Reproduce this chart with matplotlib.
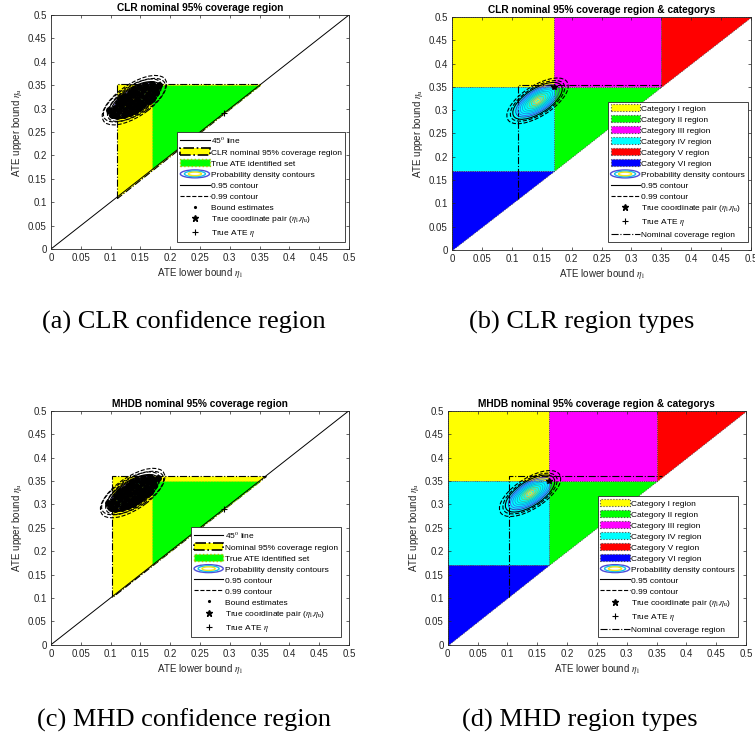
import matplotlib
matplotlib.use('Agg')
import matplotlib.pyplot as plt
from matplotlib.patches import Ellipse, Polygon, Patch
from matplotlib.lines import Line2D
from matplotlib.legend_handler import HandlerBase

plt.rcParams['font.family'] = ['Liberation Sans', 'DejaVu Sans']
plt.rcParams['mathtext.fontset'] = 'stix'

# axis ticks
ticks = [0, 0.05, 0.1, 0.15, 0.2, 0.25, 0.3, 0.35, 0.4, 0.45, 0.5]
tick_labels = ['0', '0.05', '0.1', '0.15', '0.2', '0.25', '0.3', '0.35', '0.4', '0.45', '0.5']
diag = [0, 0.5]

# true values
eta_l_true = 0.17
eta_u_true = 0.35
ate_true = 0.29

# nominal 95% coverage regions (lower corner, upper bound)
clr_lower, clr_upper = 0.11, 0.353
mhd_lower, mhd_upper = 0.103, 0.36

# true ATE identified set
id_l = [0.17, 0.17, 0.35]
id_u = [0.17, 0.35, 0.35]

# region categories
cat_names = ['Category I region', 'Category II region', 'Category III region',
             'Category IV region', 'Category V region', 'Category VI region']
cat_colors = ['#ffff00', '#00ff00', '#ff00ff', '#00ffff', '#ff0000', '#0000ff']
cat_l = [[0, 0, 0.17, 0.17], [0.17, 0.17, 0.35], [0.17, 0.17, 0.35, 0.35],
         [0, 0, 0.17, 0.17], [0.35, 0.35, 0.5], [0, 0, 0.17]]
cat_u = [[0.35, 0.5, 0.5, 0.35], [0.17, 0.35, 0.35], [0.35, 0.5, 0.5, 0.35],
         [0.17, 0.35, 0.35, 0.17], [0.35, 0.5, 0.5], [0, 0.17, 0.17]]

# density ellipse shape (semi axes at the 0.95 level, tilt in data units)
ell_a, ell_b, ell_angle = 0.052, 0.024, 43
center_a = (0.140, 0.318)
center_b = (0.143, 0.320)
center_c = (0.137, 0.324)
center_d = (0.138, 0.323)

# probability density contour levels (outer -> inner)
dens_scales = [0.88, 0.79, 0.70, 0.61, 0.52, 0.43, 0.34, 0.25, 0.16, 0.08]
dens_colors = [(0.24, 0.15, 0.66), (0.25, 0.35, 0.96), (0.13, 0.50, 0.93),
               (0.08, 0.62, 0.88), (0.02, 0.70, 0.80), (0.18, 0.75, 0.66),
               (0.40, 0.80, 0.42), (0.70, 0.75, 0.23), (0.96, 0.73, 0.23),
               (0.98, 0.90, 0.14)]

# 0.95 / 0.99 contour lines
conf_scales = [0.95, 1.03, 1.12, 1.22, 1.32]
conf_angles = [43, 41, 45, 40, 44]
conf_styles = ['-', '-', '--', '--', '--']
type_scales = [1.0, 1.1, 1.24]
type_angles = [43, 43, 43]
type_styles = ['-', '--', '--']

# bound estimates
est_l_a = [0.111, 0.104, 0.122, 0.114, 0.107, 0.132, 0.125, 0.118, 0.112,
           0.141, 0.135, 0.129, 0.123, 0.117, 0.148, 0.142, 0.136, 0.131, 0.125,
           0.155, 0.150, 0.144, 0.138, 0.132, 0.163, 0.157, 0.151, 0.145, 0.139,
           0.169, 0.162, 0.155, 0.148, 0.173, 0.166, 0.158, 0.176, 0.170,
           0.098, 0.103, 0.182, 0.176, 0.126, 0.160, 0.118, 0.150, 0.135, 0.170]
est_u_a = [0.284, 0.291, 0.286, 0.294, 0.302, 0.290, 0.297, 0.305, 0.312,
           0.295, 0.302, 0.308, 0.314, 0.320, 0.302, 0.308, 0.315, 0.321, 0.327,
           0.309, 0.315, 0.321, 0.328, 0.334, 0.316, 0.322, 0.328, 0.334, 0.341,
           0.324, 0.331, 0.339, 0.346, 0.334, 0.342, 0.350, 0.345, 0.352,
           0.296, 0.287, 0.351, 0.336, 0.292, 0.347, 0.322, 0.305, 0.335, 0.320]
est_l_c = [0.108, 0.101, 0.119, 0.111, 0.104, 0.129, 0.122, 0.115, 0.109,
           0.138, 0.132, 0.126, 0.120, 0.114, 0.145, 0.139, 0.133, 0.128, 0.122,
           0.152, 0.147, 0.141, 0.135, 0.129, 0.160, 0.154, 0.148, 0.142, 0.136,
           0.166, 0.159, 0.152, 0.145, 0.170, 0.163, 0.155, 0.173, 0.167,
           0.095, 0.100, 0.179, 0.173, 0.123, 0.157, 0.115, 0.147, 0.132, 0.167]
est_u_c = [0.290, 0.297, 0.292, 0.300, 0.308, 0.296, 0.303, 0.311, 0.318,
           0.301, 0.308, 0.314, 0.320, 0.326, 0.308, 0.314, 0.321, 0.327, 0.333,
           0.315, 0.321, 0.327, 0.334, 0.340, 0.322, 0.328, 0.334, 0.340, 0.347,
           0.330, 0.337, 0.345, 0.352, 0.340, 0.348, 0.356, 0.351, 0.358,
           0.302, 0.293, 0.357, 0.342, 0.298, 0.353, 0.328, 0.311, 0.341, 0.326]


class DensityIcon:
    pass


class DensityHandler(HandlerBase):
    def create_artists(self, legend, orig_handle, xdescent, ydescent,
                       width, height, fontsize, trans):
        cx = width / 2 - xdescent
        cy = height / 2 - ydescent
        arts = []
        for s, c in zip([1.0, 0.72, 0.45], [(0.3, 0.3, 0.85), (0.1, 0.75, 0.9), (0.95, 0.9, 0.1)]):
            arts.append(Ellipse((cx, cy), width * s, height * 1.15 * s, fill=False,
                                edgecolor=c, lw=1.0, transform=trans))
        return arts


def setup_axes(ax, title):
    ax.set_xlim(0, 0.5)
    ax.set_ylim(0, 0.5)
    ax.set_xticks(ticks)
    ax.set_yticks(ticks)
    ax.set_xticklabels(tick_labels)
    ax.set_yticklabels(tick_labels)
    ax.tick_params(direction='in', length=2.2, width=0.5, labelsize=7,
                   top=True, right=True, colors='0.15', pad=3)
    for sp in ax.spines.values():
        sp.set_linewidth(0.6)
        sp.set_color('0.15')
    ax.set_xlabel(r'ATE lower bound $\eta_{\rm l}$', fontsize=7, color='0.15', labelpad=2)
    ax.set_ylabel(r'ATE upper bound $\eta_{\rm u}$', fontsize=7, color='0.15', labelpad=3)
    ax.set_title(title, fontsize=7.3, fontweight='bold', pad=3)


def draw_density(ax, center):
    for s, c in zip(dens_scales, dens_colors):
        ax.add_patch(Ellipse(center, 2 * ell_a * s, 2 * ell_b * s, angle=ell_angle,
                             fill=False, edgecolor=c, lw=0.6, zorder=3))


def draw_levels(ax, center, scales, angles, styles):
    for s, a, st in zip(scales, angles, styles):
        ax.add_patch(Ellipse(center, 2 * ell_a * s, 2 * ell_b * s, angle=a,
                             fill=False, edgecolor='k', lw=0.8, linestyle=st, zorder=5))


def conf_panel(ax, title, region_label, lower, upper, center, est_l, est_u):
    setup_axes(ax, title)
    ax.plot(diag, diag, color='k', lw=0.7, zorder=2)
    ax.add_patch(Polygon(list(zip([lower, lower, upper], [lower, upper, upper])),
                         closed=True, facecolor='#ffff00', edgecolor='k',
                         linestyle='-.', lw=0.8, zorder=1))
    ax.add_patch(Polygon(list(zip(id_l, id_u)), closed=True, facecolor='#00ff00',
                         edgecolor='#d0d000', linestyle=':', lw=0.8, zorder=1.5))
    draw_density(ax, center)
    ax.plot(est_l, est_u, 'o', color='k', ms=5, mec='none', zorder=4)
    draw_levels(ax, center, conf_scales, conf_angles, conf_styles)
    ax.plot([eta_l_true], [eta_u_true], '*', color='k', ms=4, zorder=6)
    ax.plot([ate_true], [ate_true], '+', color='k', ms=5, mew=0.8, zorder=6)

    handles = [Line2D([], [], color='k', lw=0.8),
               Patch(facecolor='#ffff00', edgecolor='k', linestyle='-.', lw=1.2),
               Patch(facecolor='#00ff00', edgecolor='#b0c000', linestyle=':', lw=1.0),
               DensityIcon(),
               Line2D([], [], color='k', lw=0.8),
               Line2D([], [], color='k', lw=0.8, ls='--'),
               Line2D([], [], color='k', marker='.', ms=2.5, ls='none'),
               Line2D([], [], color='k', marker='*', ms=5, ls='none'),
               Line2D([], [], color='k', marker='+', ms=5, mew=0.8, ls='none')]
    labels = [r'45$^{\rm o}$ line', region_label, 'True ATE identified set',
              'Probability density contours', '0.95 contour', '0.99 contour',
              'Bound estimates', r'True coordinate pair ($\eta_{\rm l}$,$\eta_{\rm u}$)',
              r'True ATE $\eta$']
    return handles, labels


def type_panel(ax, title, lower, upper, center):
    setup_axes(ax, title)
    for l, u, c in zip(cat_l, cat_u, cat_colors):
        ax.add_patch(Polygon(list(zip(l, u)), closed=True, facecolor=c,
                             edgecolor='0.25', linestyle=':', lw=0.6, zorder=1))
    ax.plot([lower, lower, upper], [lower, upper, upper], color='k', ls='-.',
            lw=0.8, zorder=2)
    draw_density(ax, center)
    draw_levels(ax, center, type_scales, type_angles, type_styles)
    ax.plot([eta_l_true], [eta_u_true], '*', color='k', ms=4, zorder=6)
    ax.plot([ate_true], [ate_true], '+', color='k', ms=5, mew=0.8, zorder=6)

    handles = [Patch(facecolor=c, edgecolor='0.3', linestyle=':', lw=0.8) for c in cat_colors]
    handles += [DensityIcon(),
                Line2D([], [], color='k', lw=0.8),
                Line2D([], [], color='k', lw=0.8, ls='--'),
                Line2D([], [], color='k', marker='*', ms=5, ls='none'),
                Line2D([], [], color='k', marker='+', ms=5, mew=0.8, ls='none'),
                Line2D([], [], color='k', lw=0.8, ls='-.')]
    labels = cat_names + ['Probability density contours', '0.95 contour', '0.99 contour',
                          r'True coordinate pair ($\eta_{\rm l}$,$\eta_{\rm u}$)',
                          r'True ATE $\eta$', 'Nominal coverage region']
    return handles, labels


def add_legend(ax, handles, labels, anchor):
    leg = ax.legend(handles, labels, loc='lower right', bbox_to_anchor=anchor,
                    borderaxespad=0, fontsize=6.0, handlelength=3.5, handleheight=0.9,
                    handletextpad=0.2, labelspacing=0.32, borderpad=0.35,
                    fancybox=False, framealpha=1, edgecolor='0.15',
                    handler_map={DensityIcon: DensityHandler()})
    leg.get_frame().set_linewidth(0.6)
    leg.set_zorder(10)


fig = plt.figure(figsize=(7.55, 7.42), dpi=100)
ax_a = fig.add_axes([0.0675, 0.6644, 0.3947, 0.3154])
ax_b = fig.add_axes([0.5987, 0.6631, 0.3960, 0.3140])
ax_c = fig.add_axes([0.0675, 0.1311, 0.3947, 0.3154])
ax_d = fig.add_axes([0.5930, 0.1311, 0.3951, 0.3154])

h, lab = conf_panel(ax_a, 'CLR nominal 95% coverage region', 'CLR nominal 95% coverage region',
                    clr_lower, clr_upper, center_a, est_l_a, est_u_a)
add_legend(ax_a, h, lab, (0.987, 0.03))

h, lab = type_panel(ax_b, 'CLR nominal 95% coverage region & categorys',
                    clr_lower, clr_upper, center_b)
add_legend(ax_b, h, lab, (0.99, 0.034))

h, lab = conf_panel(ax_c, 'MHDB nominal 95% coverage region', 'Nominal 95% coverage region',
                    mhd_lower, mhd_upper, center_c, est_l_c, est_u_c)
add_legend(ax_c, h, lab, (0.973, 0.034))

h, lab = type_panel(ax_d, 'MHDB nominal 95% coverage region & categorys',
                    mhd_lower, mhd_upper, center_d)
add_legend(ax_d, h, lab, (0.973, 0.034))

cap_font = dict(family=['Liberation Serif', 'DejaVu Serif'], fontsize=19, ha='center', va='center')
fig.text(0.2437, 0.566, '(a) CLR confidence region', **cap_font)
fig.text(0.771, 0.566, '(b) CLR region types', **cap_font)
fig.text(0.2437, 0.0287, '(c) MHD confidence region', **cap_font)
fig.text(0.768, 0.0287, '(d) MHD region types', **cap_font)

fig.savefig('out.png', dpi=100)
